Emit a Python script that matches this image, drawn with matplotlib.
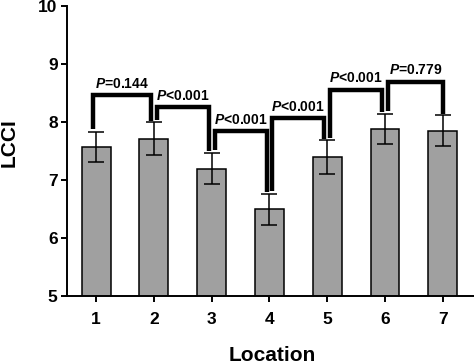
import matplotlib
matplotlib.use("Agg")
import matplotlib.pyplot as plt
import numpy as np

# ---- data ----
locations = [1, 2, 3, 4, 5, 6, 7]
means = [7.57, 7.71, 7.19, 6.49, 7.39, 7.88, 7.85]
errors = [0.26, 0.28, 0.27, 0.27, 0.29, 0.26, 0.26]
yticks = [5, 6, 7, 8, 9, 10]
# comparisons between neighbouring locations
pairs = [(1, 2), (2, 3), (3, 4), (4, 5), (5, 6), (6, 7)]
bracket_heights = [8.46, 8.25, 7.84, 8.06, 8.55, 8.69]
p_texts = ["=0.144", "<0.001", "<0.001", "<0.001", "<0.001", "=0.779"]

plt.rcParams['font.family'] = ['Liberation Sans', 'DejaVu Sans']
plt.rcParams['font.weight'] = 'bold'
plt.rcParams['mathtext.fontset'] = 'custom'
plt.rcParams['mathtext.it'] = 'Liberation Sans:italic:bold'
plt.rcParams['mathtext.rm'] = 'Liberation Sans:bold'

fig = plt.figure(figsize=(4.74, 3.63), dpi=100)
ax = fig.add_axes([0.1407, 0.1854, 0.8593, 0.7981])

x = np.array(locations, dtype=float)
ax.bar(x, means, width=0.5, color='#a0a0a0', edgecolor='black', linewidth=1.1, zorder=2)
ax.errorbar(x, means, yerr=errors, fmt='none', ecolor='black', elinewidth=1.1,
            capsize=5.8, capthick=1.1, zorder=3)

tops = np.array(means) + np.array(errors)
for k, ((a, b), h, txt) in enumerate(zip(pairs, bracket_heights, p_texts)):
    xa = a + (-0.05 if k == 0 else 0.05)
    xb = b + (0.0 if k == len(pairs) - 1 else -0.05)
    ya = tops[a - 1] + 0.05
    yb = tops[b - 1] + 0.03
    ax.plot([xa, xa, xb, xb], [ya, h, h, yb], color='black', lw=3.2,
            solid_joinstyle='miter', solid_capstyle='butt', zorder=4, clip_on=False)
    ax.text((xa + xb) / 2, h + 0.13, r'$\mathit{P}$' + txt, ha='center', va='baseline',
            fontsize=10, fontweight='bold', zorder=5)

ax.set_xlim(0.49, 7.54)
ax.set_ylim(5, 10)
ax.set_xticks(x)
ax.set_xticklabels([str(v) for v in locations])
ax.set_yticks(yticks)
ax.set_yticklabels([str(v) for v in yticks])

for s in ['top', 'right']:
    ax.spines[s].set_visible(False)
for s in ['left', 'bottom']:
    ax.spines[s].set_linewidth(1.4)

ax.tick_params(axis='both', which='major', width=1.4, length=4.5, labelsize=12.5)
ax.tick_params(axis='x', pad=7)
ax.tick_params(axis='y', pad=2)
for lab in ax.get_xticklabels() + ax.get_yticklabels():
    lab.set_fontweight('bold')

ax.set_ylabel('LCCI', fontsize=15, fontweight='bold')
ax.yaxis.set_label_coords(-0.118, 0.527)
ax.set_xlabel('Location', fontsize=15, fontweight='bold')
ax.xaxis.set_label_coords(0.504, -0.172)

fig.savefig('out.png', dpi=100)
